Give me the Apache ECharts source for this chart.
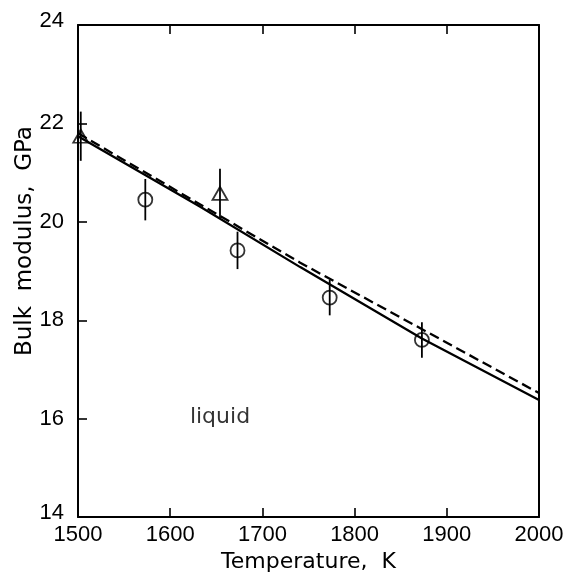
<!DOCTYPE html>
<html><head><meta charset="utf-8">
<script src="https://cdn.jsdelivr.net/npm/echarts@6/dist/echarts.min.js"></script>
<style>html,body{margin:0;padding:0;background:#fff}#c{width:567px;height:578px}</style>
</head><body><div id="c"></div>
<script>
// Data
const xTicks = [1500, 1600, 1700, 1800, 1900, 2000];
const yTicks = [14, 16, 18, 20, 22, 24];
const circleT = [1573, 1673, 1773, 1873];
const circleK = [20.45, 19.42, 18.46, 17.60];
const circleErr = [0.42, 0.38, 0.36, 0.36];
const triT = [1503, 1654];
const triK = [21.74, 20.58];
const triErr = [0.5, 0.5];
const solidT = [1500, 1633, 1741, 1873, 2000];
const solidK = [21.74, 20.30, 19.08, 17.63, 16.38];
const dashT = [1500, 1741, 2000];
const dashK = [21.80, 19.17, 16.52];
const noteText = 'liquid';
const noteT = [1654];
const noteK = [16.02];

const NUMFONT = 'Liberation Sans, Arial, sans-serif';
const TXTFONT = 'DejaVu Sans, sans-serif';
const zip = (a, b) => a.map((v, i) => [v, b[i]]);
const errData = (t, k, e) => t.map((v, i) => [v, k[i] - e[i], k[i] + e[i]]);

const chart = echarts.init(document.getElementById('c'), null, {renderer: 'canvas'});
const errSeries = (data) => ({
  type: 'custom',
  data: data,
  silent: true,
  z: 3,
  renderItem: function (params, api) {
    const p1 = api.coord([api.value(0), api.value(1)]);
    const p2 = api.coord([api.value(0), api.value(2)]);
    return {type: 'line', shape: {x1: p1[0], y1: p1[1], x2: p2[0], y2: p2[1]},
      style: {stroke: '#000', lineWidth: 1.8}};
  }
});
const lbl = {fontFamily: NUMFONT, fontSize: 22, color: '#000'};

chart.setOption({
  animation: false,
  backgroundColor: '#fff',
  grid: {left: 78, right: 28, top: 25, bottom: 58},
  xAxis: [{
    type: 'value', min: xTicks[0], max: xTicks[xTicks.length - 1], interval: 100,
    position: 'bottom',
    name: 'Temperature,  K', nameLocation: 'middle', nameGap: 33,
    nameTextStyle: {fontFamily: TXTFONT, fontSize: 22, color: '#000'},
    axisLine: {show: true, lineStyle: {color: '#000', width: 2}},
    axisTick: {show: true, inside: true, length: 9, lineStyle: {color: '#000', width: 1.6}},
    axisLabel: Object.assign({margin: 7, showMinLabel: true, showMaxLabel: true, formatter: v => String(v)}, lbl),
    splitLine: {show: false}
  }, {
    type: 'value', min: xTicks[0], max: xTicks[xTicks.length - 1], interval: 100,
    position: 'top',
    axisLine: {show: true, lineStyle: {color: '#000', width: 2}},
    axisTick: {show: true, inside: true, length: 9, lineStyle: {color: '#000', width: 1.6}},
    axisLabel: {show: false}, splitLine: {show: false}
  }],
  yAxis: [{
    type: 'value', min: yTicks[0], max: yTicks[yTicks.length - 1], interval: 2,
    position: 'left',
    name: 'Bulk  modulus,  GPa', nameLocation: 'middle', nameGap: 41, nameRotate: 90,
    nameMoveOverlap: false,
    nameTextStyle: {fontFamily: TXTFONT, fontSize: 23, color: '#000', padding: [0, 0, 0, 60]},
    axisLine: {show: true, lineStyle: {color: '#000', width: 2}},
    axisTick: {show: true, inside: true, length: 9, lineStyle: {color: '#000', width: 1.6}},
    axisLabel: Object.assign({margin: 14, showMinLabel: true, showMaxLabel: true,
      formatter: v => v === yTicks[0] ? '{low|' + v + '}' : (v === yTicks[yTicks.length-1] ? '{high|' + v + '}' : String(v)),
      rich: {low: Object.assign({padding: [0, 0, 8, 0]}, lbl),
             high: Object.assign({padding: [0, 0, 8, 0]}, lbl)}}, lbl),
    splitLine: {show: false}
  }, {
    type: 'value', min: yTicks[0], max: yTicks[yTicks.length - 1], interval: 2,
    position: 'right',
    axisLine: {show: true, lineStyle: {color: '#000', width: 2}},
    axisTick: {show: false}, axisLabel: {show: false}, splitLine: {show: false}
  }],
  series: [
    {type: 'line', data: zip(solidT, solidK), symbol: 'none', lineStyle: {color: '#000', width: 2.3}, z: 2},
    {type: 'line', data: zip(dashT, dashK), symbol: 'none', lineStyle: {color: '#000', width: 2.3, type: [10, 5]}, z: 2},
    errSeries(errData(circleT, circleK, circleErr)),
    errSeries(errData(triT, triK, triErr)),
    {type: 'scatter', data: zip(circleT, circleK), symbol: 'circle', symbolSize: 14,
      itemStyle: {color: 'rgba(0,0,0,0)', borderColor: '#000', borderWidth: 1.8}, z: 4},
    {type: 'scatter', data: zip(triT, triK), symbol: 'triangle', symbolSize: [15, 13],
      itemStyle: {color: 'rgba(0,0,0,0)', borderColor: '#000', borderWidth: 1.8}, z: 4},
    {type: 'scatter', data: zip(noteT, noteK), symbolSize: 0, silent: true,
      label: {show: true, position: 'inside', formatter: noteText, fontFamily: TXTFONT, fontSize: 22, color: '#000', textBorderWidth: 0}}
  ]
});
</script></body></html>
